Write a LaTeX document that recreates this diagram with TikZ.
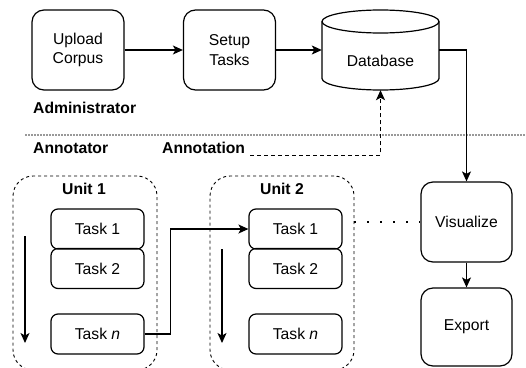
\documentclass[tikz,border=0pt]{standalone}
\usepackage{fontspec}
\setmainfont{Liberation Sans}
\usetikzlibrary{arrows.meta}

\begin{document}
\begin{tikzpicture}[x=1pt,y=-1pt,
  every node/.style={font=\fontsize{15.7}{19.5}\selectfont},
  stepbox/.style={draw, line width=1.2pt, rounded corners=12pt, align=center,
    minimum width=92pt, minimum height=80pt, inner sep=0pt},
  taskbox/.style={draw, line width=1.2pt, rounded corners=7pt,
    minimum width=93pt, minimum height=40pt, inner sep=0pt},
  unitbox/.style={draw, line width=0.9pt, dash pattern=on 3pt off 3pt,
    rounded corners=20pt, minimum width=144pt, minimum height=194pt, inner sep=0pt},
  rolelabel/.style={font=\fontsize{15.7}{19.5}\selectfont\bfseries, anchor=west, inner sep=0pt},
  conn/.style={line width=1.2pt, -{Stealth[length=10pt,width=9pt,inset=2.5pt]}},
  dashconn/.style={conn, dash pattern=on 4pt off 3pt},
  divider/.style={draw=black!40, line width=1.5pt, dash pattern=on 1.5pt off 1.5pt},
  dotlink/.style={line width=2pt, dash pattern=on 2pt off 11pt}
]
\useasboundingbox (0,0) rectangle (526,367);

% administrator side
\node[stepbox] (upload) at (78,50) {Upload\\Corpus};
\node[stepbox] (setup) at (229.5,50) {Setup\\Tasks};

% database cylinder
\node[minimum width=117pt, minimum height=80pt, inner sep=0pt] (db) at (380.5,50) {};
\draw[line width=1.2pt]
  (322,21.5) -- (322,78.5) arc[start angle=180, end angle=360, x radius=58.5, y radius=-11.5]
  -- (439,21.5);
\draw[line width=1.2pt] (380.5,21.5) ellipse[x radius=58.5, y radius=11.5];
\node at (380.5,61) {Database};

\node[rolelabel] (admin) at (33,108) {Administrator};

% role divider
\coordinate (divL) at (25,135);
\coordinate (divR) at (526,135);
\draw[divider] (divL) -- (divR);

\node[rolelabel] (annotator) at (33,148) {Annotator};
\node[rolelabel] (annot) at (162,148) {Annotation};

% annotation units
\node[unitbox] (u1) at (85,273) {};
\node[font=\fontsize{15.7}{19.5}\selectfont\bfseries] (u1lab) at (84,189) {Unit 1};
\node[taskbox] (u1t1) at (97.5,229) {Task 1};
\node[taskbox] (u1t2) at (97.5,268.5) {Task 2};
\node[taskbox] (u1tn) at (97.5,334) {Task \textit{n}};
\coordinate (u1a) at (25,236);
\coordinate (u1b) at (25,343);
\draw[conn] (u1a) -- (u1b);

\node[unitbox] (u2) at (282,273) {};
\node[font=\fontsize{15.7}{19.5}\selectfont\bfseries] (u2lab) at (282,189) {Unit 2};
\node[taskbox] (u2t1) at (295.5,229) {Task 1};
\node[taskbox] (u2t2) at (295.5,268.5) {Task 2};
\node[taskbox] (u2tn) at (295.5,334) {Task \textit{n}};
\coordinate (u2a) at (222,249);
\coordinate (u2b) at (222,343);
\draw[conn] (u2a) -- (u2b);

% output side
\node[stepbox, minimum width=91pt] (vis) at (466.5,222) {Visualize};
\node[stepbox, minimum width=91pt, minimum height=78pt] (export) at (466.5,327) {Export};

% connectors
\draw[conn] (upload) -- (setup);
\draw[conn] (setup) -- (db.west);
\draw[conn] (db.east) -| (vis.north);
\draw[conn] (vis) -- (export);
\coordinate (annstart) at ([xshift=5pt,yshift=-1.5pt]annot.base east);
\draw[dashconn] (annstart) -| (db.south);
\draw[conn] (u1tn.east) -- ++(26,0) |- (u2t1.west);
\draw[dotlink] (u2.east |- vis.west) -- (vis.west);
\end{tikzpicture}
\end{document}
